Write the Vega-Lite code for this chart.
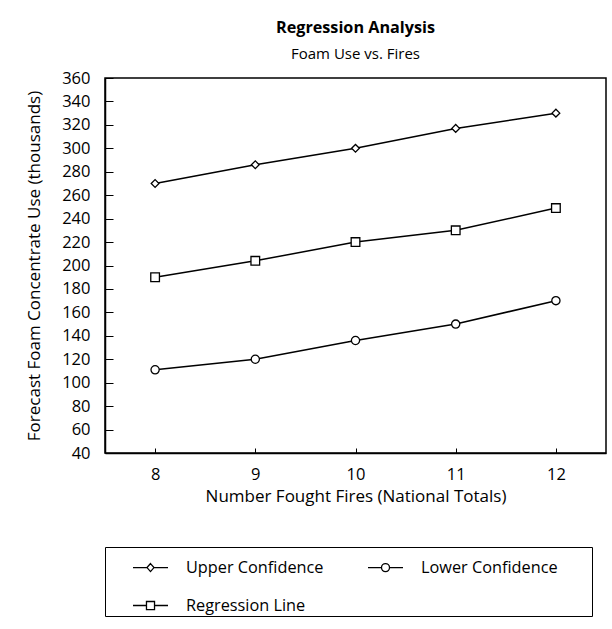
{
  "$schema": "https://vega.github.io/schema/vega-lite/v6.json",
  "autosize": "none",
  "width": 501,
  "height": 375,
  "padding": {"left": 105, "top": 78, "right": 6, "bottom": 176},
  "background": "white",
  "title": {
    "text": "Regression Analysis",
    "subtitle": "Foam Use vs. Fires",
    "anchor": "middle",
    "font": "Open Sans",
    "fontSize": 16.2,
    "fontWeight": "bold",
    "color": "black",
    "subtitleFont": "Open Sans",
    "subtitleFontSize": 15,
    "subtitleColor": "black",
    "subtitlePadding": 11,
    "offset": 8
  },
  "data": {
    "values": [
      {"fires": 8, "use": 270, "series": "Upper Confidence"},
      {"fires": 9, "use": 286, "series": "Upper Confidence"},
      {"fires": 10, "use": 300, "series": "Upper Confidence"},
      {"fires": 11, "use": 317, "series": "Upper Confidence"},
      {"fires": 12, "use": 330, "series": "Upper Confidence"},
      {"fires": 8, "use": 190, "series": "Regression Line"},
      {"fires": 9, "use": 204, "series": "Regression Line"},
      {"fires": 10, "use": 220, "series": "Regression Line"},
      {"fires": 11, "use": 230, "series": "Regression Line"},
      {"fires": 12, "use": 249, "series": "Regression Line"},
      {"fires": 8, "use": 111, "series": "Lower Confidence"},
      {"fires": 9, "use": 120, "series": "Lower Confidence"},
      {"fires": 10, "use": 136, "series": "Lower Confidence"},
      {"fires": 11, "use": 150, "series": "Lower Confidence"},
      {"fires": 12, "use": 170, "series": "Lower Confidence"}
    ]
  },
  "encoding": {
    "x": {
      "field": "fires",
      "type": "quantitative",
      "scale": {"domain": [7.5, 12.5], "nice": false, "zero": false},
      "axis": {
        "title": "Number Fought Fires (National Totals)",
        "values": [8, 9, 10, 11, 12],
        "tickSize": -5,
        "labelPadding": 18,
        "titlePadding": 6
      }
    },
    "y": {
      "field": "use",
      "type": "quantitative",
      "scale": {"domain": [40, 360], "nice": false, "zero": false},
      "axis": {
        "title": "Forecast Foam Concentrate Use (thousands)",
        "values": [40, 60, 80, 100, 120, 140, 160, 180, 200, 220, 240, 260, 280, 300, 320, 340, 360],
        "tickSize": -8,
        "labelPadding": 23,
        "titlePadding": 18
      }
    }
  },
  "layer": [
    {
      "mark": {"type": "line", "color": "black", "strokeWidth": 1.5},
      "encoding": {"detail": {"field": "series"}}
    },
    {
      "mark": {"type": "point", "filled": true, "fill": "white", "stroke": "black", "strokeWidth": 1.3, "opacity": 1},
      "encoding": {
        "shape": {
          "field": "series",
          "type": "nominal",
          "scale": {
            "domain": ["Upper Confidence", "Lower Confidence", "Regression Line"],
            "range": ["diamond", "circle", "square"]
          },
          "legend": null
        },
        "size": {
          "field": "series",
          "type": "nominal",
          "scale": {
            "domain": ["Upper Confidence", "Lower Confidence", "Regression Line"],
            "range": [60, 75, 95]
          },
          "legend": null
        }
      }
    },
    {
      "transform": [{"filter": "datum.use < 0"}],
      "mark": {"type": "point", "filled": false, "color": "black", "strokeWidth": 1.3, "opacity": 1},
      "encoding": {
        "shape": {
          "field": "series",
          "type": "nominal",
          "scale": {
            "domain": ["Upper Confidence", "Lower Confidence", "Regression Line"],
            "range": [
              "M -1 0 H -0.2 M 0.2 0 H 1 M 0 -0.23 L 0.2 0 L 0 0.23 L -0.2 0 Z",
              "M -1 0 H -0.23 M 0.23 0 H 1 M 0.23 0 A 0.23 0.23 0 1 1 -0.23 0 A 0.23 0.23 0 1 1 0.23 0 Z",
              "M -1 0 H -0.23 M 0.23 0 H 1 M -0.23 -0.23 H 0.23 V 0.23 H -0.23 Z"
            ]
          },
          "legend": {
            "title": " ",
            "titleOrient": "right",
            "titleFontSize": 2,
            "titlePadding": 32,
            "orient": "none",
            "legendX": 0,
            "legendY": 469,
            "columns": 2,
            "direction": "horizontal",
            "padding": 2,
            "symbolOffset": 25,
            "symbolSize": 1225,
            "symbolOpacity": 1,
            "symbolStrokeColor": "black",
            "symbolStrokeWidth": 1.3,
            "labelOffset": 17,
            "labelFontSize": 16.3,
            "labelFont": "Open Sans",
            "labelColor": "black",
            "columnPadding": 18,
            "rowPadding": 11,
            "strokeColor": "black",
            "fillColor": "white",
            "encode": {
              "symbols": {
                "update": {
                  "stroke": {"value": "black"},
                  "strokeWidth": {"value": 1.3},
                  "fill": {"value": "white"},
                  "opacity": {"value": 1}
                }
              }
            }
          }
        }
      }
    }
  ],
  "resolve": {"scale": {"shape": "independent", "size": "independent"}},
  "config": {
    "view": {"stroke": "black", "strokeWidth": 1.5},
    "axis": {
      "domainColor": "black",
      "domainWidth": 1.5,
      "tickColor": "black",
      "tickWidth": 1,
      "grid": false,
      "labelFont": "Open Sans",
      "labelFontSize": 16.5,
      "labelColor": "black",
      "titleFont": "Open Sans",
      "titleFontSize": 17,
      "titleFontWeight": "normal",
      "titleColor": "black"
    }
  }
}
